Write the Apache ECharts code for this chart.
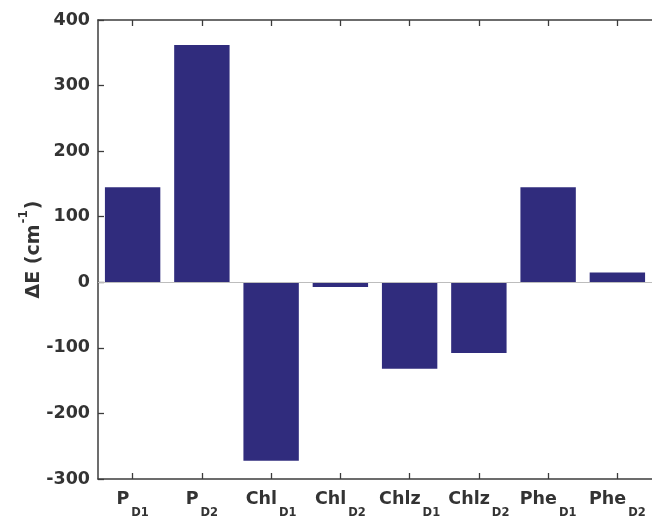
<!DOCTYPE html>
<html>
<head>
<meta charset="utf-8">
<script src="https://cdn.jsdelivr.net/npm/echarts@6/dist/echarts.min.js"></script>
<style>html,body{margin:0;padding:0;background:#fff}#c{width:652px;height:519px}</style>
</head>
<body>
<div id="c"></div>
<script>
var catMain = ['P', 'P', 'Chl', 'Chl', 'Chlz', 'Chlz', 'Phe', 'Phe'];
var catSub = ['D1', 'D2', 'D1', 'D2', 'D1', 'D2', 'D1', 'D2'];
var deltaE = [145, 362, -272, -7, -132, -108, 145, 15];
var yTicks = [-300, -200, -100, 0, 100, 200, 300, 400];

var categories = catMain.map(function (m, i) { return m + '_' + catSub[i]; });
var FONT = 'DejaVu Sans';
var AX = '#3c3c3c';

var tickStyle = { show: true, inside: true, length: 6, lineStyle: { color: AX, width: 1.3 } };

var chart = echarts.init(document.getElementById('c'));
chart.setOption({
  animation: false,
  backgroundColor: '#fff',
  grid: { left: 98, top: 20, width: 560, height: 459 },
  xAxis: [{
    type: 'category',
    data: categories,
    position: 'bottom',
    axisLine: { show: true, onZero: false, lineStyle: { color: AX, width: 1.5 } },
    axisTick: Object.assign({ alignWithLabel: true, interval: 0 }, tickStyle),
    axisLabel: {
      margin: 0,
      interval: 0,
      formatter: function (v, i) { return '{m|' + catMain[i] + '}{s|' + catSub[i] + '}'; },
      rich: {
        m: { fontFamily: FONT, fontWeight: 'bold', fontSize: 17.5, color: '#333', lineHeight: 40, verticalAlign: 'middle' },
        s: { fontFamily: FONT, fontWeight: 'bold', fontSize: 11.5, color: '#333', lineHeight: 16, verticalAlign: 'bottom', padding: [0, 0, 0, 2] }
      }
    }
  }, {
    type: 'category',
    data: categories,
    position: 'top',
    axisLine: { show: true, onZero: false, lineStyle: { color: AX, width: 1.5 } },
    axisTick: Object.assign({ alignWithLabel: true, interval: 0 }, tickStyle),
    axisLabel: { show: false }
  }],
  yAxis: {
    type: 'value',
    min: yTicks[0],
    max: yTicks[yTicks.length - 1],
    interval: 100,
    splitLine: { show: false },
    axisLine: { show: true, onZero: false, lineStyle: { color: AX, width: 1.5 } },
    axisTick: tickStyle,
    axisLabel: { fontFamily: FONT, fontWeight: 'bold', fontSize: 17.5, color: '#333', margin: 8 },
    name: '{m|ΔE (cm}{sup|-1}{m|)}',
    nameLocation: 'middle',
    nameRotate: 90,
    nameGap: 54,
    nameMoveOverlap: false,
    nameTextStyle: {
      rich: {
        m: { fontFamily: FONT, fontWeight: 'bold', fontSize: 19, color: '#333', lineHeight: 26, verticalAlign: 'bottom' },
        sup: { fontFamily: FONT, fontWeight: 'bold', fontSize: 12, color: '#333', lineHeight: 26, verticalAlign: 'top', padding: [0, 1, 10, 1] }
      }
    }
  },
  series: [{
    type: 'bar',
    xAxisIndex: 0,
    data: deltaE,
    barWidth: '80%',
    itemStyle: { color: '#302c7d' },
    markLine: {
      silent: true,
      symbol: 'none',
      label: { show: false },
      lineStyle: { color: '#bdbdbd', width: 1.2, type: 'solid' },
      data: [{ yAxis: 0 }]
    },
    z: 2
  }]
});
</script>
</body>
</html>
